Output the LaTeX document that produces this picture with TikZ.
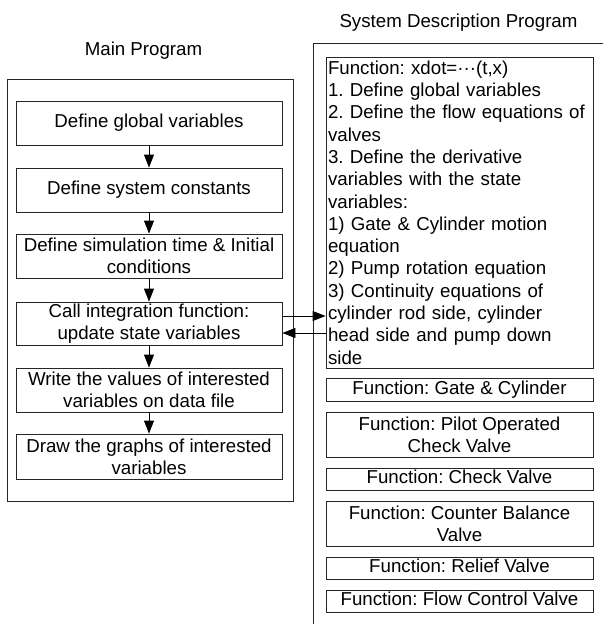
\documentclass[tikz,border=0pt]{standalone}
\usepackage{fontspec}
\setmainfont{Liberation Sans}
\usetikzlibrary{arrows.meta,calc}
\frenchspacing
\begin{document}
\begin{tikzpicture}[x=1pt,y=-1pt,
  every node/.style={font=\fontsize{18.7pt}{22.3pt}\selectfont\frenchspacing},
  frame/.style={draw=black!85,line width=0.9pt},
  mainbox/.style={frame,minimum width=266pt,inner sep=0pt,align=center},
  fnbox/.style={frame,minimum width=267pt,inner sep=0pt,align=center},
  oneline/.style={text height=13.7pt,text depth=4pt},
  arr/.style={draw=black,line width=0.9pt,-{Triangle[length=13pt,width=10pt]}},
  title/.style={anchor=base}]
\useasboundingbox (0,0) rectangle (603,624);
% titles
\node[title] (maint) at (143.5,55) {Main Program};
\node[title] (syst) at (458.5,27) {System Description Program};
% main program frame
\node[frame,minimum width=286pt,minimum height=422pt,inner sep=0pt] (mainframe) at (150,290) {};
% right frame (open, cut off by page edge)
\begin{scope}
\clip (0,0) rectangle (603,624);
\draw[frame] (610,43) -- (313,43) -- (313,630);
\end{scope}
% main boxes
\node[mainbox,minimum height=44pt,oneline] (b1) at (149,123) {Define global variables};
\node[mainbox,minimum height=44pt,oneline] (b2) at (149,190) {Define system constants};
\node[mainbox,minimum height=44pt] (b3) at (149,256) {Define simulation time \& Initial\\conditions};
\node[mainbox,minimum height=43pt] (b4) at (149,323.5) {Call integration function:\\update state variables};
\node[mainbox,minimum height=44pt] (b5) at (149,390) {Write the values of interested\\variables on data file};
\node[mainbox,minimum height=45pt] (b6) at (149,456.5) {Draw the graphs of interested\\variables};
\draw[arr] (b1.south) -- (b2.north);
\draw[arr] (b2.south) -- (b3.north);
\draw[arr] (b3.south) -- (b4.north);
\draw[arr] (b4.south) -- (b5.north);
\draw[arr] (b5.south) -- (b6.north);
% system description box
\node[frame,inner xsep=2pt,inner ysep=0pt,text width=263pt,minimum height=311pt,align=left] (sys) at (459.5,212.5)
{Function: xdot=···(t,x)\\
1. Define global variables\\
2. Define the flow equations of\\
valves\\
3. Define the derivative\\
variables with the state\\
variables:\\
1) Gate \& Cylinder motion\\
equation\\
2) Pump rotation equation\\
3) Continuity equations of\\
cylinder rod side, cylinder\\
head side and pump down\\
side};
% function boxes
\node[fnbox,minimum height=23pt,oneline] (f1) at (459.5,389.5) {Function: Gate \& Cylinder};
\node[fnbox,minimum height=45pt] (f2) at (459.5,434.5) {Function: Pilot Operated\\Check Valve};
\node[fnbox,minimum height=22pt,oneline] (f3) at (459.5,479) {Function: Check Valve};
\node[fnbox,minimum height=45pt] (f4) at (459.5,523.5) {Function: Counter Balance\\Valve};
\node[fnbox,minimum height=22pt,oneline] (f5) at (459.5,568) {Function: Relief Valve};
\node[fnbox,minimum height=22pt,oneline] (f6) at (459.5,601) {Function: Flow Control Valve};
% call / return connectors
\draw[arr] ([yshift=7.5pt]b4.east) -- ([yshift=7.5pt]b4.east -| sys.west);
\draw[arr] ([yshift=-9.5pt]b4.east -| sys.west) -- ([yshift=-9.5pt]b4.east);
\end{tikzpicture}
\end{document}
